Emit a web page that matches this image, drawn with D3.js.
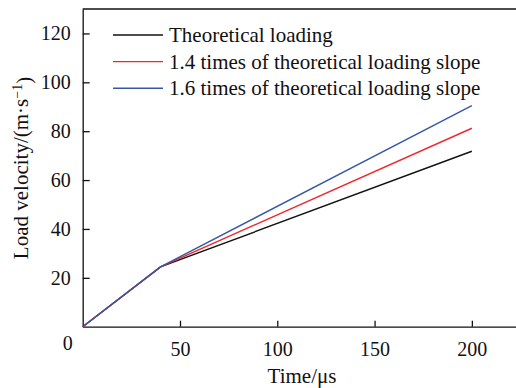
<!DOCTYPE html>
<html lang="en">
<head>
  <meta charset="UTF-8" />
  <title>Load velocity</title>
  <style>
    body { margin: 0; background: #fff; }
    svg, svg text { font-family: 'Liberation Serif', 'DejaVu Serif', serif; }
    text { fill: #111; }
    .axis path, .axis line { stroke: #111; stroke-width: 1.3; }
    .axis text { font-size: 20px; }
  </style>
</head>
<body>
  <svg width="516" height="388"></svg>
  <script src="https://d3js.org/d3.v7.min.js"></script>
  <script>
    // data
    const times = [0, 40, 200];
    const theoretical = [0, 24.5, 71.8];
    const slope14 = [0, 24.5, 81.2];
    const slope16 = [0, 24.5, 90.5];
    const xTicks = [50, 100, 150, 200];
    const yTicks = [20, 40, 60, 80, 100, 120];
    const seriesNames = ['Theoretical loading', '1.4 times of theoretical loading slope', '1.6 times of theoretical loading slope'];
    const seriesColors = ['#111111', '#f0282d', '#3557a8'];

    const plotL = 82.7, plotR = 520.5, plotT = 9, plotB = 326.7;
    const serif = "'Liberation Serif', 'DejaVu Serif', serif";

    const x = d3.scaleLinear().domain([0, 225]).range([plotL, plotR]);
    const y = d3.scaleLinear().domain([0, 130]).range([plotB, plotT]);

    const svg = d3.select('svg');

    // frame top
    svg.append('line')
      .attr('x1', plotL).attr('x2', plotR)
      .attr('y1', plotT).attr('y2', plotT)
      .attr('stroke', '#111').attr('stroke-width', 1.3);

    // x axis, ticks inward
    const gx = svg.append('g').attr('class', 'axis')
      .attr('transform', `translate(0,${plotB})`)
      .call(d3.axisBottom(x).tickValues(xTicks).tickSizeInner(-6).tickSizeOuter(0).tickPadding(14));
    gx.selectAll('text').attr('dy', '0.75em');

    // y axis, ticks inward
    const gy = svg.append('g').attr('class', 'axis')
      .attr('transform', `translate(${plotL},0)`)
      .call(d3.axisLeft(y).tickValues(yTicks).tickSizeInner(-7).tickSizeOuter(0).tickPadding(12));

    [gx, gy].forEach(g => g.attr('font-family', serif).attr('font-size', 20));

    // shared origin label
    svg.append('text')
      .attr('x', x(0) - 15).attr('y', 350)
      .attr('text-anchor', 'middle')
      .style('font-size', '20px')
      .text('0');

    // lines
    const line = d3.line()
      .x((d, i) => x(times[i]))
      .y(d => y(d));

    const series = [theoretical, slope14, slope16];
    svg.selectAll('path.series')
      .data(series)
      .join('path')
      .attr('class', 'series')
      .attr('d', line)
      .attr('fill', 'none')
      .attr('stroke', (d, i) => seriesColors[i])
      .attr('stroke-width', 1.4);

    // legend
    const legend = svg.append('g');
    seriesNames.forEach((name, i) => {
      const ly = 35 + i * 26.6;
      legend.append('line')
        .attr('x1', 113).attr('x2', 163)
        .attr('y1', ly).attr('y2', ly)
        .attr('stroke', seriesColors[i]).attr('stroke-width', 1.4);
      legend.append('text')
        .attr('x', 169).attr('y', ly + 7)
        .style('font-size', '21px')
        .text(name);
    });

    // axis titles
    svg.append('text')
      .attr('x', 302).attr('y', 383)
      .attr('text-anchor', 'middle')
      .style('font-size', '21px')
      .text('Time/μs');

    const yl = svg.append('text')
      .attr('transform', 'translate(28,168) rotate(-90)')
      .attr('text-anchor', 'middle')
      .style('font-size', '21px');
    yl.append('tspan').text('Load velocity/(m·s');
    yl.append('tspan').attr('dy', '-0.45em').style('font-size', '14px').text('−1');
    yl.append('tspan').attr('dy', '0.45em').text(')');

    svg.selectAll('text').style('font-family', serif);
  </script>
</body>
</html>
